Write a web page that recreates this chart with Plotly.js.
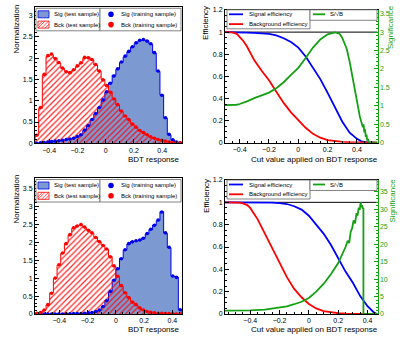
<!DOCTYPE html>
<html>
<head>
<meta charset="utf-8">
<script src="https://cdn.plot.ly/plotly-3.0.1.min.js"></script>
<style>
  html, body { margin: 0; padding: 0; background: #fff; }
  #chart { width: 403px; height: 340px; }
</style>
</head>
<body>
<div id="chart"></div>
<script>
// TMVA-style BDT output + cut efficiency panels (two trainings, top and bottom row).

// --- histogram binning (40 bins each) ---
const TOP_LO = -0.5, TOP_BW = 0.026;
const BOT_LO = -0.572, BOT_BW = 0.026;

// --- top row: BDT response histograms ---
const topSigTest  = [0.00, 0.01, 0.02, 0.03, 0.04, 0.05, 0.06, 0.07, 0.08, 0.10, 0.12, 0.15, 0.20, 0.30, 0.42, 0.55, 0.69, 0.84, 1.00, 1.20,
                     1.42, 1.60, 1.74, 1.90, 2.03, 2.15, 2.26, 2.35, 2.41, 2.43, 2.41, 2.33, 2.12, 1.69, 1.14, 0.59, 0.20, 0.08, 0.03, 0.01];
const topBkgTest  = [0.20, 0.82, 1.60, 2.04, 2.08, 2.00, 1.88, 1.76, 1.69, 1.65, 1.72, 1.80, 1.88, 2.00, 2.02, 1.96, 1.84, 1.69, 1.50, 1.35,
                     1.21, 1.05, 0.90, 0.75, 0.65, 0.55, 0.46, 0.37, 0.30, 0.26, 0.20, 0.15, 0.12, 0.09, 0.07, 0.05, 0.03, 0.02, 0.01, 0.01];
const topSigTrain = [0.00, 0.01, 0.02, 0.03, 0.04, 0.05, 0.06, 0.07, 0.09, 0.10, 0.12, 0.16, 0.20, 0.31, 0.42, 0.56, 0.70, 0.84, 1.02, 1.21,
                     1.41, 1.58, 1.75, 1.91, 2.05, 2.16, 2.27, 2.36, 2.42, 2.44, 2.40, 2.34, 2.13, 1.70, 1.13, 0.60, 0.21, 0.08, 0.03, 0.01];
const topBkgTrain = [0.19, 0.84, 1.62, 2.06, 2.10, 1.99, 1.90, 1.77, 1.68, 1.66, 1.73, 1.82, 1.89, 2.02, 2.01, 1.97, 1.85, 1.70, 1.49, 1.36,
                     1.20, 1.04, 0.91, 0.76, 0.64, 0.56, 0.45, 0.38, 0.30, 0.25, 0.20, 0.15, 0.12, 0.09, 0.07, 0.05, 0.03, 0.02, 0.01, 0.01];

// --- bottom row: BDT response histograms ---
const botSigTest  = [0.00, 0.00, 0.00, 0.00, 0.00, 0.00, 0.00, 0.00, 0.005, 0.005, 0.01, 0.01, 0.015, 0.02, 0.03, 0.04, 0.06, 0.10, 0.20, 0.38,
                     0.62, 0.95, 1.25, 1.55, 1.78, 1.95, 2.02, 2.03, 2.05, 2.12, 2.23, 2.35, 2.48, 2.60, 2.85, 2.25, 1.85, 1.05, 1.03, 0.12];
const botBkgTest  = [0.02, 0.03, 0.10, 0.25, 0.59, 0.99, 1.36, 1.69, 1.97, 2.20, 2.39, 2.46, 2.48, 2.41, 2.34, 2.25, 2.14, 2.01, 1.92, 1.80,
                     1.60, 1.33, 1.04, 0.78, 0.60, 0.45, 0.34, 0.25, 0.17, 0.11, 0.07, 0.05, 0.03, 0.02, 0.02, 0.01, 0.01, 0.01, 0.00, 0.00];
const botSigTrain = [0.00, 0.00, 0.00, 0.00, 0.00, 0.00, 0.00, 0.00, 0.005, 0.005, 0.01, 0.01, 0.015, 0.02, 0.03, 0.04, 0.07, 0.11, 0.21, 0.37,
                     0.63, 0.94, 1.26, 1.54, 1.79, 1.96, 2.01, 2.04, 2.06, 2.11, 2.24, 2.36, 2.47, 2.62, 2.84, 2.26, 1.86, 1.06, 1.02, 0.12];
const botBkgTrain = [0.02, 0.04, 0.11, 0.26, 0.58, 1.00, 1.37, 1.70, 1.96, 2.21, 2.40, 2.45, 2.49, 2.42, 2.33, 2.26, 2.13, 2.02, 1.91, 1.81,
                     1.59, 1.34, 1.05, 0.79, 0.59, 0.46, 0.33, 0.26, 0.17, 0.11, 0.07, 0.05, 0.03, 0.02, 0.02, 0.01, 0.01, 0.01, 0.00, 0.00];

// --- top row: cut efficiencies ---
const effCutTop = [-0.50, -0.45, -0.42, -0.40, -0.375, -0.35, -0.30, -0.25, -0.20, -0.15, -0.10, -0.05, 0.00,
                   0.05, 0.10, 0.15, 0.20, 0.25, 0.30, 0.35, 0.40, 0.43, 0.45, 0.47, 0.50, 0.54];
const sigEffTop = [1.000, 1.000, 1.000, 0.999, 0.998, 0.996, 0.993, 0.990, 0.985, 0.970, 0.945, 0.910, 0.860,
                   0.780, 0.680, 0.575, 0.450, 0.320, 0.190, 0.090, 0.035, 0.012, 0.005, 0.002, 0.000, 0.000];
const bkgEffTop = [1.000, 0.998, 0.985, 0.960, 0.920, 0.870, 0.745, 0.650, 0.565, 0.460, 0.360, 0.275, 0.200,
                   0.135, 0.080, 0.045, 0.024, 0.014, 0.008, 0.004, 0.002, 0.001, 0.000, 0.000, 0.000, 0.000];
const sigCutTop = [-0.50, -0.45, -0.42, -0.40, -0.375, -0.35, -0.30, -0.25, -0.20, -0.15, -0.10, -0.05, 0.00, 0.05, 0.10,
                   0.15, 0.20, 0.25, 0.28, 0.30, 0.33, 0.35, 0.38, 0.40, 0.42, 0.44, 0.445, 0.45, 0.455, 0.46, 0.465,
                   0.47, 0.475, 0.48, 0.50, 0.54];
const signifTop = [1.02, 1.02, 1.03, 1.05, 1.08, 1.12, 1.21, 1.29, 1.36, 1.48, 1.64, 1.84, 2.03, 2.30, 2.58,
                   2.80, 2.94, 2.99, 2.96, 2.84, 2.55, 2.20, 1.55, 1.05, 0.70, 0.42, 0.50, 0.28, 0.36, 0.16, 0.22,
                   0.06, 0.10, 0.00, 0.00, 0.00];

// --- bottom row: cut efficiencies ---
const effCutBot = [-0.572, -0.50, -0.47, -0.45, -0.42, -0.40, -0.38, -0.35, -0.30, -0.25, -0.20, -0.15, -0.10,
                   -0.05, 0.00, 0.05, 0.10, 0.15, 0.20, 0.25, 0.30, 0.35, 0.40, 0.44, 0.46, 0.468];
const sigEffBot = [1.000, 1.000, 1.000, 1.000, 1.000, 1.000, 1.000, 1.000, 0.999, 0.997, 0.993, 0.985, 0.965,
                   0.935, 0.880, 0.800, 0.720, 0.620, 0.500, 0.380, 0.280, 0.160, 0.070, 0.018, 0.003, 0.000];
const bkgEffBot = [1.000, 1.000, 0.998, 0.990, 0.975, 0.950, 0.910, 0.850, 0.720, 0.590, 0.460, 0.330, 0.225,
                   0.150, 0.090, 0.050, 0.025, 0.013, 0.007, 0.003, 0.001, 0.000, 0.000, 0.000, 0.000, 0.000];
const sigCutBot = [-0.572, -0.50, -0.40, -0.30, -0.20, -0.15, -0.10, -0.05, 0.00, 0.05, 0.10, 0.15, 0.20, 0.23,
                   0.25, 0.265, 0.275, 0.285, 0.295, 0.305, 0.315, 0.325, 0.332, 0.340, 0.347, 0.353, 0.358,
                   0.363, 0.368, 0.372, 0.3721, 0.40, 0.44, 0.468];
const signifBot = [0.95, 0.97, 1.05, 1.25, 1.75, 2.2, 2.8, 3.5, 4.6, 6.4, 8.6, 11.4, 14.6, 17.2,
                   19.2, 21.0, 20.3, 23.5, 24.6, 26.8, 26.0, 28.9, 28.2, 30.5, 29.8, 32.0, 30.6,
                   31.2, 30.2, 30.4, 0, 0, 0, 0];

const SIG_FILL = '#7d99d1';
const SIG_LINE = '#0000ee';
const BKG_LINE = '#ff0000';
const GREEN = '#13a013';
const FONT = 'Liberation Sans, Arial, Helvetica, sans-serif';

const W = 403, H = 340;
const px = (x) => x / W;
const py = (y) => 1 - y / H;

// step-outline histogram drawn as an hv line closed to zero
function histTrace(vals, lo, bw, xa, ya, style) {
  const xs = [lo];
  const ys = [0];
  vals.forEach((v, i) => { xs.push(lo + i * bw); ys.push(v); });
  xs.push(lo + vals.length * bw); ys.push(vals[vals.length - 1]);
  xs.push(lo + vals.length * bw); ys.push(0);
  return Object.assign({
    x: xs, y: ys, xaxis: xa, yaxis: ya,
    mode: 'lines', line: { shape: 'hv', width: 1 },
    fill: 'tozeroy', hoverinfo: 'skip', showlegend: false,
  }, style);
}

function pointsTrace(vals, lo, bw, xa, ya, color) {
  return {
    x: vals.map((v, i) => lo + (i + 0.5) * bw), y: vals,
    xaxis: xa, yaxis: ya, mode: 'markers',
    marker: { color, size: 3.6 }, showlegend: false, hoverinfo: 'skip',
  };
}

function lineTrace(xs, ys, xa, ya, color) {
  return {
    x: xs, y: ys, xaxis: xa, yaxis: ya, mode: 'lines',
    line: { color, width: 1.8 }, showlegend: false, hoverinfo: 'skip',
  };
}

function histPanel(sigT, bkgT, sigTr, bkgTr, lo, bw, xa, ya) {
  return [
    histTrace(sigT, lo, bw, xa, ya, { line: { shape: 'hv', width: 1, color: SIG_LINE }, fillcolor: SIG_FILL }),
    histTrace(bkgT, lo, bw, xa, ya, {
      line: { shape: 'hv', width: 1, color: BKG_LINE },
      fillcolor: 'rgba(0,0,0,0)',
      fillpattern: { shape: '/', fgcolor: 'rgba(255,0,0,0.85)', bgcolor: 'rgba(0,0,0,0)', size: 4, solidity: 0.3 },
    }),
    pointsTrace(sigTr, lo, bw, xa, ya, SIG_LINE),
    pointsTrace(bkgTr, lo, bw, xa, ya, BKG_LINE),
  ];
}

const traces = [
  ...histPanel(topSigTest, topBkgTest, topSigTrain, topBkgTrain, TOP_LO, TOP_BW, 'x', 'y'),
  lineTrace(effCutTop, sigEffTop, 'x2', 'y2', '#0000ff'),
  lineTrace(effCutTop, bkgEffTop, 'x2', 'y2', '#ff0000'),
  lineTrace(sigCutTop, signifTop, 'x2', 'y3', GREEN),
  ...histPanel(botSigTest, botBkgTest, botSigTrain, botBkgTrain, BOT_LO, BOT_BW, 'x3', 'y4'),
  lineTrace(effCutBot, sigEffBot, 'x4', 'y5', '#0000ff'),
  lineTrace(effCutBot, bkgEffBot, 'x4', 'y5', '#ff0000'),
  lineTrace(sigCutBot, signifBot, 'x4', 'y6', GREEN),
];

function ax(extra) {
  return Object.assign({
    showline: true, linecolor: '#000', linewidth: 1,
    ticks: 'inside', ticklen: 4, tickcolor: '#000', tickwidth: 1,
    showgrid: false, zeroline: false, fixedrange: true,
    tickfont: { family: FONT, size: 7, color: '#000' },
  }, extra);
}
const xMinor = { ticks: 'inside', ticklen: 2, dtick: 0.05, tickcolor: '#000' };

const layout = {
  width: W, height: H,
  margin: { l: 0, r: 0, t: 0, b: 0 },
  paper_bgcolor: '#fff', plot_bgcolor: '#fff',
  showlegend: false,
  font: { family: FONT },
  // top-left
  xaxis: ax({ domain: [px(35), px(182)], range: [TOP_LO, TOP_LO + 40 * TOP_BW], anchor: 'y', mirror: true, dtick: 0.2, tick0: 0, minor: xMinor }),
  yaxis: ax({ domain: [py(143.3), py(6.7)], range: [0, 3.21], anchor: 'x', mirror: true, dtick: 0.5, tick0: 0,
              minor: { ticks: 'inside', ticklen: 2, dtick: 0.1, tickcolor: '#000' } }),
  // top-right
  xaxis2: ax({ domain: [px(225), px(377.5)], range: [-0.5, 0.54], anchor: 'y2', mirror: true, dtick: 0.2, tick0: 0, minor: xMinor }),
  yaxis2: ax({ domain: [py(142.7), py(10)], range: [0, 1.2], anchor: 'x2', dtick: 0.2, tick0: 0,
               minor: { ticks: 'inside', ticklen: 2, dtick: 0.05, tickcolor: '#000' } }),
  yaxis3: ax({ overlaying: 'y2', side: 'right', anchor: 'x2', range: [0, 3.6], dtick: 0.5, tick0: 0,
               linecolor: GREEN, tickcolor: GREEN, tickfont: { family: FONT, size: 7, color: GREEN },
               minor: { ticks: 'inside', ticklen: 2, dtick: 0.1, tickcolor: GREEN } }),
  // bottom-left
  xaxis3: ax({ domain: [px(35), px(182)], range: [BOT_LO, BOT_LO + 40 * BOT_BW], anchor: 'y4', mirror: true, dtick: 0.2, tick0: 0, minor: xMinor }),
  yaxis4: ax({ domain: [py(314), py(178.3)], range: [0, 3.78], anchor: 'x3', mirror: true, dtick: 0.5, tick0: 0,
               minor: { ticks: 'inside', ticklen: 2, dtick: 0.1, tickcolor: '#000' } }),
  // bottom-right
  xaxis4: ax({ domain: [px(225), px(377.5)], range: [BOT_LO, BOT_LO + 40 * BOT_BW], anchor: 'y5', mirror: true, dtick: 0.2, tick0: 0, minor: xMinor }),
  yaxis5: ax({ domain: [py(314), py(180)], range: [0, 1.2], anchor: 'x4', dtick: 0.2, tick0: 0,
               minor: { ticks: 'inside', ticklen: 2, dtick: 0.05, tickcolor: '#000' } }),
  yaxis6: ax({ overlaying: 'y5', side: 'right', anchor: 'x4', range: [0, 38.4], dtick: 5, tick0: 0,
               linecolor: GREEN, tickcolor: GREEN, tickfont: { family: FONT, size: 7, color: GREEN },
               minor: { ticks: 'inside', ticklen: 2, dtick: 1, tickcolor: GREEN } }),
  shapes: [],
  annotations: [],
};

// unit efficiency reference lines
['x2|y2', 'x4|y5'].forEach((k) => {
  const [xa, ya] = k.split('|');
  layout.shapes.push({ type: 'line', xref: xa + ' domain', yref: ya, x0: 0, x1: 1, y0: 1, y1: 1,
                       line: { color: '#000', width: 1 }, layer: 'below' });
});

function label(x, y, text, opts) {
  layout.annotations.push(Object.assign({
    xref: 'paper', yref: 'paper', x: px(x), y: py(y), text, showarrow: false,
    font: { family: FONT, size: 8, color: '#000' }, xanchor: 'left', yanchor: 'middle',
  }, opts));
}
function box(x0, y0, x1, y1, fill, line) {
  layout.shapes.push({ type: 'rect', xref: 'paper', yref: 'paper', x0: px(x0), x1: px(x1), y0: py(y0), y1: py(y1),
                       fillcolor: fill, line: { color: line, width: 0.8 }, layer: 'above' });
}
function seg(x0, y0, x1, y1, color, width) {
  layout.shapes.push({ type: 'line', xref: 'paper', yref: 'paper', x0: px(x0), x1: px(x1), y0: py(y0), y1: py(y1),
                       line: { color, width }, layer: 'above' });
}
function dot(cx, cy, r, color) {
  layout.shapes.push({ type: 'circle', xref: 'paper', yref: 'paper', x0: px(cx - r), x1: px(cx + r), y0: py(cy + r), y1: py(cy - r),
                       fillcolor: color, line: { color, width: 0 }, layer: 'above' });
}
const legFont = { family: FONT, size: 6, color: '#000' };

// histogram legends and axis titles
function histDecor(top) {
  const r1 = top + 6, r2 = top + 16.3;
  box(36, top, 100, top + 22.5, '#fff', '#666');
  box(100, top, 181, top + 22.5, '#fff', '#666');
  box(38, r1 - 3.5, 49, r1 + 3.5, SIG_FILL, SIG_LINE);
  box(38, r2 - 3.5, 49, r2 + 3.5, '#fff', BKG_LINE);
  [[38, r2 + 1, 42.5, r2 - 3.5], [38, r2 + 3.5, 45, r2 - 3.5], [41.5, r2 + 3.5, 48.5, r2 - 3.5], [45, r2 + 3.5, 49, r2 - 0.5]]
    .forEach(([a, b, c, d]) => seg(a, b, c, d, BKG_LINE, 0.7));
  dot(111, r1, 2.8, SIG_LINE);
  dot(111, r2, 2.8, BKG_LINE);
  label(52, r1, 'Sig (test sample)', { font: legFont });
  label(52, r2, 'Bck (test sample)', { font: legFont });
  label(119, r1, 'Sig (training sample)', { font: legFont });
  label(119, r2, 'Bck (training sample)', { font: legFont });
}
function effDecor(top) {
  const r1 = top + 4.5, r2 = top + 14.3;
  box(227, top, 310, top + 19, '#fff', '#666');
  box(310, top, 377, top + 10.5, '#fff', '#666');
  seg(229, r1, 243, r1, '#0000ff', 1.8);
  seg(229, r2, 243, r2, '#ff0000', 1.8);
  seg(313, r1, 325, r1, GREEN, 1.8);
  label(246.5, r1, 'Signal efficiency', { font: legFont });
  label(246.5, r2, 'Background efficiency', { font: legFont });
  label(328, r1, 'S/√B', { font: legFont });
}

histDecor(8.3);
histDecor(179.5);
effDecor(9.8);
effDecor(180);

// axis titles
label(16, 3, 'Normalization', { textangle: -90, xanchor: 'center', yanchor: 'top' });
label(16, 173, 'Normalization', { textangle: -90, xanchor: 'center', yanchor: 'top' });
label(182, 159, 'BDT response', { xanchor: 'right' });
label(182, 329.5, 'BDT response', { xanchor: 'right' });
label(206, 4, 'Efficiency', { textangle: -90, xanchor: 'center', yanchor: 'top' });
label(206, 177, 'Efficiency', { textangle: -90, xanchor: 'center', yanchor: 'top' });
label(380, 159, 'Cut value applied on BDT response', { xanchor: 'right' });
label(380, 329.5, 'Cut value applied on BDT response', { xanchor: 'right' });
label(391, 3, 'Significance', { textangle: -90, xanchor: 'center', yanchor: 'top', font: { family: FONT, size: 8, color: GREEN } });
label(391.5, 177, 'Significance', { textangle: -90, xanchor: 'center', yanchor: 'top', font: { family: FONT, size: 8, color: GREEN } });

Plotly.newPlot('chart', traces, layout, { staticPlot: true, displayModeBar: false });
</script>
</body>
</html>
